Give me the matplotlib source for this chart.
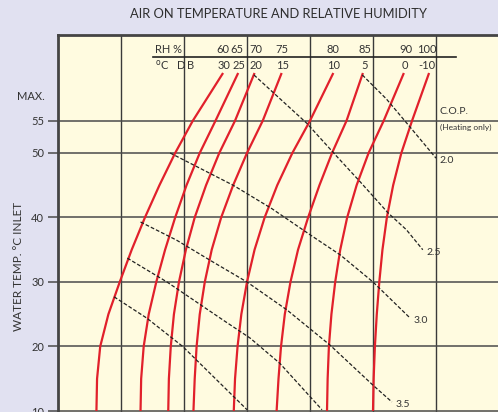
import numpy as np
import matplotlib.pyplot as plt

plt.rcParams['font.family'] = ['Lato', 'DejaVu Sans']

# water inlet temperature levels where the curves were read
water_temp = [62.4, 55, 50, 45, 40, 35, 30, 25, 20, 15, 10]

# position across the chart (grid columns 0..7) of each dry bulb / RH curve
dry_bulb = [30, 25, 20, 15, 10, 5, 0, -10]
rh = [60, 65, 70, 75, 80, 85, 90, 100]
curve_30 = [2.62, 2.14, 1.86, 1.61, 1.38, 1.17, 0.98, 0.80, 0.67, 0.62, 0.61]
curve_25 = [2.86, 2.50, 2.25, 2.04, 1.86, 1.70, 1.56, 1.44, 1.36, 1.32, 1.31]
curve_20 = [3.12, 2.81, 2.56, 2.35, 2.17, 2.03, 1.92, 1.84, 1.79, 1.76, 1.75]
curve_15 = [3.55, 3.25, 3.00, 2.78, 2.59, 2.44, 2.33, 2.25, 2.20, 2.17, 2.15]
curve_10 = [4.37, 4.00, 3.72, 3.48, 3.28, 3.12, 3.00, 2.91, 2.85, 2.81, 2.79]
curve_5 = [4.84, 4.58, 4.35, 4.15, 3.97, 3.81, 3.69, 3.60, 3.54, 3.50, 3.47]
curve_0 = [5.49, 5.17, 4.93, 4.74, 4.59, 4.48, 4.40, 4.34, 4.30, 4.28, 4.27]
curve_m10 = [5.89, 5.62, 5.45, 5.32, 5.22, 5.15, 5.10, 5.06, 5.03, 5.01, 5.00]
curves = [curve_30, curve_25, curve_20, curve_15, curve_10, curve_5, curve_0, curve_m10]

# C.O.P. lines (heating only)
cop_values = ['2.0', '2.5', '3.0', '3.5', '4.0', '4.5']
cop_x = [
    [4.83, 5.21, 5.59, 6.00],
    [3.11, 3.95, 4.45, 4.79, 5.24, 5.53, 5.79],
    [1.78, 2.78, 3.39, 4.05, 4.48, 5.00, 5.59],
    [1.31, 1.88, 2.46, 3.00, 3.63, 4.32, 5.00, 5.30],
    [1.10, 1.73, 2.62, 3.05, 3.52, 4.19],
    [0.89, 1.41, 1.98, 3.00],
]
cop_y = [
    [62.1, 58.4, 54.0, 49.2],
    [62.1, 54.6, 49.2, 45.6, 40.7, 38.1, 35.0],
    [50.0, 45.0, 41.4, 37.0, 34.2, 30.0, 24.4],
    [39.3, 36.5, 33.1, 30.0, 25.7, 20.2, 14.0, 11.4],
    [33.7, 30.0, 24.1, 21.3, 17.4, 10.2],
    [27.7, 24.4, 20.0, 10.2],
]

rh_label_x = [2.62, 2.84, 3.14, 3.56, 4.37, 4.87, 5.52, 5.85]
db_label_x = [2.64, 2.87, 3.14, 3.56, 4.37, 4.86, 5.51, 5.86]

y_ticks = [10, 20, 30, 40, 50, 55]

fig = plt.figure(figsize=(4.98, 4.12), dpi=100)
fig.patch.set_facecolor('#e1e1f1')
ax = fig.add_axes([58/498, 0, 1 - 58/498, 377/412])
ax.set_facecolor('#fffbe0')
ax.set_xlim(0, 440/63)
ax.set_ylim(9.845, 68.29)

# grid
for xv in range(1, 7):
    ax.axvline(xv, color='#3a3a3a', lw=1.0, zorder=1)
for yv in y_ticks:
    ax.axhline(yv, color='#4a4a4a', lw=1.1, zorder=1)

for c in curves:
    ax.plot(c, water_temp, color='#e1202b', lw=1.6, solid_capstyle='butt',
            solid_joinstyle='round', zorder=3)

for i in range(len(cop_values)):
    ax.plot(cop_x[i], cop_y[i], color='#222222', lw=0.9, dashes=(3, 1.6), zorder=4)
    if i < 4:
        ax.text(cop_x[i][-1] + 0.06, cop_y[i][-1] - 0.4, cop_values[i], fontsize=7.5,
                color='#333333', ha='left', va='center')

ax.text(6.06, 55.7, 'C.O.P.', fontsize=7.5, color='#333333', ha='left', va='bottom')
ax.text(6.06, 53.9, '(Heating only)', fontsize=6, color='#333333', ha='left', va='center')

# header rows
ax.plot([1.51, 6.32], [64.9, 64.9], color='#222222', lw=1.2, zorder=2)
ax.text(1.54, 66.0, 'RH %', fontsize=8, color='#333333', ha='left', va='center')
ax.text(1.54, 63.7, '$^{\\rm o}$C   D', fontsize=8, color='#333333', ha='left', va='center')
ax.text(2.05, 63.6, 'B', fontsize=8, color='#333333', ha='left', va='center')
for i in range(len(rh)):
    ax.text(rh_label_x[i], 66.0, str(rh[i]), fontsize=8, color='#333333', ha='center', va='center')
    ax.text(db_label_x[i], 63.6, str(dry_bulb[i]), fontsize=8, color='#333333', ha='center', va='center')

ax.set_xticks([])
ax.set_yticks(y_ticks)
ax.set_yticklabels([str(t) for t in y_ticks], fontsize=8, color='#333333')
ax.tick_params(axis='y', length=7, width=1.1, color='#4a4a4a', pad=3)
for s in ['right', 'bottom']:
    ax.spines[s].set_visible(False)
ax.spines['left'].set_linewidth(2)
ax.spines['left'].set_color('#444444')
ax.spines['top'].set_linewidth(2)
ax.spines['top'].set_color('#444444')

ax.text(-13/440, 58.8, 'MAX.', fontsize=8, color='#333333', ha='right', va='center',
        transform=ax.get_yaxis_transform())
ax.text(-39/440, 0.385, 'WATER TEMP. °C INLET', fontsize=8.5, color='#333333',
        rotation=90, ha='center', va='center', transform=ax.transAxes)
fig.text(279/498, 1 - 14/412, 'AIR ON TEMPERATURE AND RELATIVE HUMIDITY', fontsize=9.3,
         color='#2e2e2e', ha='center', va='center')

fig.savefig('out.png', dpi=100, facecolor=fig.get_facecolor())
